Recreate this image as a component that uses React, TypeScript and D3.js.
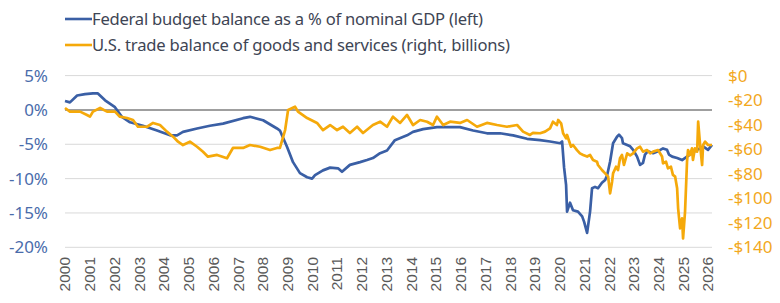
import React from 'react';
import * as d3 from 'd3';

// axis ticks
const years = d3.range(2000, 2027);
const leftTicks = [5, 0, -5, -10, -15, -20];
const rightTicks = [0, -20, -40, -60, -80, -100, -120, -140];

// [year, % of GDP]
const budgetBalance: [number, number][] = [
  [2000.0, 1.3], [2000.2, 1.1], [2000.49, 2.1], [2000.81, 2.3], [2001.13, 2.4], [2001.33, 2.4],
  [2001.62, 1.4], [2002.02, 0.4], [2002.3, -1.0], [2002.63, -1.8], [2003.15, -2.3], [2003.72, -3.0],
  [2004.25, -3.7], [2004.53, -3.7], [2004.77, -3.2], [2005.34, -2.7], [2005.86, -2.3], [2006.39, -2.0],
  [2007.2, -1.2], [2007.48, -1.0], [2008.01, -1.5], [2008.57, -2.7], [2008.69, -3.0], [2008.98, -5.4],
  [2009.22, -7.6], [2009.5, -9.2], [2009.79, -9.8], [2009.99, -10.0], [2010.11, -9.5], [2010.43, -8.8],
  [2010.72, -8.4], [2011.04, -8.5], [2011.2, -9.0], [2011.52, -8.0], [2011.93, -7.6], [2012.21, -7.3],
  [2012.45, -7.0], [2012.74, -6.3], [2013.02, -5.9], [2013.34, -4.4], [2013.83, -3.7], [2014.07, -3.2],
  [2014.48, -2.8], [2015.04, -2.5], [2015.45, -2.5], [2015.97, -2.5], [2016.5, -3.0], [2017.06, -3.4],
  [2017.59, -3.4], [2018.12, -3.7], [2018.68, -4.2], [2019.21, -4.4], [2019.61, -4.6], [2020.02, -4.85],
  [2020.1, -4.6], [2020.18, -8.4], [2020.26, -10.9], [2020.3, -14.8], [2020.42, -13.5], [2020.54, -14.6],
  [2020.74, -14.8], [2020.91, -15.5], [2020.99, -16.3], [2021.11, -17.9], [2021.23, -14.8], [2021.31, -11.4],
  [2021.43, -11.2], [2021.55, -11.4], [2021.71, -10.6], [2021.84, -10.2], [2021.92, -9.5], [2022.04, -7.5],
  [2022.16, -4.85], [2022.32, -3.9], [2022.4, -3.6], [2022.52, -4.1], [2022.56, -4.85], [2022.73, -5.1],
  [2022.85, -5.3], [2022.97, -5.8], [2023.13, -6.8], [2023.25, -8.0], [2023.37, -7.7], [2023.45, -6.5],
  [2023.57, -6.0], [2023.78, -6.3], [2023.98, -6.0], [2024.18, -5.6], [2024.34, -5.8], [2024.42, -6.5],
  [2024.55, -6.8], [2024.75, -7.0], [2024.95, -7.3], [2025.15, -6.8], [2025.35, -6.3], [2025.55, -5.8],
  [2025.68, -5.6], [2025.8, -5.3], [2026.0, -5.8], [2026.16, -5.1],
];

// [year, $ billions]
const tradeBalance: [number, number][] = [
  [2000.0, -26.4], [2000.2, -29.4], [2000.61, -29.4], [2000.89, -32.1], [2001.01, -33.5], [2001.13, -29.4],
  [2001.42, -26.4], [2001.7, -29.4], [2002.02, -29.4], [2002.22, -33.5], [2002.51, -34.6], [2002.75, -36.2],
  [2002.95, -41.7], [2003.32, -41.7], [2003.56, -38.6], [2003.84, -40.3], [2004.12, -45.7], [2004.37, -49.8],
  [2004.57, -53.9], [2004.77, -56.6], [2005.05, -53.9], [2005.34, -58.0], [2005.58, -62.1], [2005.78, -66.1],
  [2006.15, -64.7], [2006.55, -67.4], [2006.79, -59.0], [2007.2, -59.0], [2007.48, -56.6], [2007.89, -58.0],
  [2008.29, -60.7], [2008.57, -59.0], [2008.69, -59.0], [2008.9, -44.4], [2009.02, -28.0], [2009.3, -25.4],
  [2009.42, -29.4], [2009.79, -34.6], [2010.19, -38.6], [2010.43, -44.4], [2010.72, -40.3], [2011.0, -44.4],
  [2011.24, -41.7], [2011.52, -46.8], [2011.81, -41.7], [2012.05, -46.8], [2012.45, -40.3], [2012.74, -37.6],
  [2013.02, -41.7], [2013.26, -33.5], [2013.55, -38.6], [2013.83, -32.1], [2014.07, -40.3], [2014.36, -36.2],
  [2014.64, -37.6], [2014.88, -40.3], [2015.04, -33.5], [2015.29, -40.3], [2015.57, -37.6], [2015.97, -38.6],
  [2016.26, -36.2], [2016.66, -41.7], [2017.06, -38.6], [2017.47, -40.3], [2017.87, -41.7], [2018.28, -40.3],
  [2018.52, -45.7], [2018.8, -48.4], [2018.92, -46.7], [2019.21, -47.0], [2019.41, -45.7], [2019.61, -43.0],
  [2019.73, -37.6], [2019.89, -40.3], [2019.94, -36.2], [2020.06, -38.9], [2020.14, -47.0], [2020.26, -51.1],
  [2020.3, -48.4], [2020.46, -58.0], [2020.54, -56.6], [2020.7, -60.7], [2020.82, -63.4], [2020.95, -64.7],
  [2021.11, -66.0], [2021.23, -64.7], [2021.35, -68.8], [2021.51, -70.2], [2021.55, -72.9], [2021.71, -77.0],
  [2021.84, -79.7], [2021.96, -82.4], [2022.04, -96.0], [2022.12, -86.5], [2022.16, -79.7], [2022.28, -74.3],
  [2022.36, -77.0], [2022.44, -67.4], [2022.52, -64.7], [2022.6, -72.9], [2022.73, -63.4], [2022.85, -65.0],
  [2022.97, -63.4], [2023.13, -59.3], [2023.25, -58.0], [2023.37, -62.0], [2023.53, -60.7], [2023.66, -63.4],
  [2023.78, -62.0], [2023.98, -60.7], [2024.14, -66.0], [2024.18, -71.5], [2024.3, -70.2], [2024.38, -75.6],
  [2024.5, -74.3], [2024.58, -81.0], [2024.67, -82.4], [2024.75, -91.9], [2024.79, -108.2], [2024.87, -124.5],
  [2024.95, -116.4], [2024.99, -132.7], [2025.07, -111.0], [2025.15, -70.2], [2025.19, -60.7], [2025.27, -64.7],
  [2025.35, -59.3], [2025.39, -68.8], [2025.47, -59.3], [2025.56, -62.0], [2025.6, -37.6], [2025.68, -56.6],
  [2025.76, -72.9], [2025.8, -56.6], [2025.88, -53.9], [2026.0, -56.6], [2026.16, -56.6],
];

const legendItems = [
  { label: 'Federal budget balance as a % of nominal GDP (left)', color: '#3a5fa5', width: 391 },
  { label: 'U.S. trade balance of goods and services (right, billions)', color: '#f5a90a', width: 418 },
];

const W = 780;
const H = 303;
const plot = { left: 65, right: 712, top: 75.6, bottom: 247.3 };

const uiFont = '"Noto Sans", "Open Sans", sans-serif';

export default function App() {
  const x = d3.scaleLinear().domain([2000, 2026.16]).range([plot.left, plot.right]);
  const yL = d3.scaleLinear().domain([-20, 5]).range([plot.bottom, plot.top]);
  const yR = d3.scaleLinear().domain([-140, 0]).range([plot.bottom, plot.top]);

  const budgetLine = d3.line<[number, number]>().x(d => x(d[0])).y(d => yL(d[1]));
  const tradeLine = d3.line<[number, number]>().x(d => x(d[0])).y(d => yR(d[1]));

  return (
    <svg width={W} height={H} style={{ position: 'absolute', left: 0, top: 0, background: '#fff' }}>
      {/* legend */}
      {legendItems.map((item, i) => (
        <g key={item.label} transform={`translate(65, ${19 + i * 26})`}>
          <line x1={0} x2={27} y1={0} y2={0} stroke={item.color} strokeWidth={2.6} />
          <text
            x={27}
            y={0}
            dy="0.35em"
            fontFamily={uiFont}
            fontSize={16.6}
            fill="#3e4554"
            textLength={item.width}
            lengthAdjust="spacing"
          >
            {item.label}
          </text>
        </g>
      ))}

      {/* gridlines */}
      {leftTicks.map(t => (
        <line
          key={t}
          x1={plot.left}
          x2={plot.right}
          y1={yL(t)}
          y2={yL(t)}
          stroke={t === 0 ? '#7f7f7f' : '#d9d9d9'}
          strokeWidth={t === 0 ? 1.5 : 1}
        />
      ))}

      {/* left axis */}
      {leftTicks.map(t => (
        <text key={t} x={48} y={yL(t)} dy="0.35em" textAnchor="end" fontFamily={uiFont} fontSize={17} fill="#4a6cab">
          {`${t}%`}
        </text>
      ))}

      {/* right axis */}
      {rightTicks.map(t => (
        <text key={t} x={728} y={yR(t)} dy="0.35em" fontFamily={uiFont} fontSize={17} fill="#f2a81d">
          {t === 0 ? '$0' : `-$${Math.abs(t)}`}
        </text>
      ))}

      {/* x axis labels */}
      {years.map(yr => (
        <text
          key={yr}
          transform={`translate(${x(yr)}, 257) rotate(-90)`}
          textAnchor="end"
          dy="0.35em"
          fontFamily='"Liberation Sans", Arial, sans-serif'
          fontSize={15.5}
          fill="#595959"
        >
          {yr}
        </text>
      ))}

      {/* series */}
      <path d={budgetLine(budgetBalance) ?? ''} fill="none" stroke="#3a5fa5" strokeWidth={2.7} strokeLinejoin="round" />
      <path d={tradeLine(tradeBalance) ?? ''} fill="none" stroke="#f5a90a" strokeWidth={2.7} strokeLinejoin="round" />
    </svg>
  );
}
